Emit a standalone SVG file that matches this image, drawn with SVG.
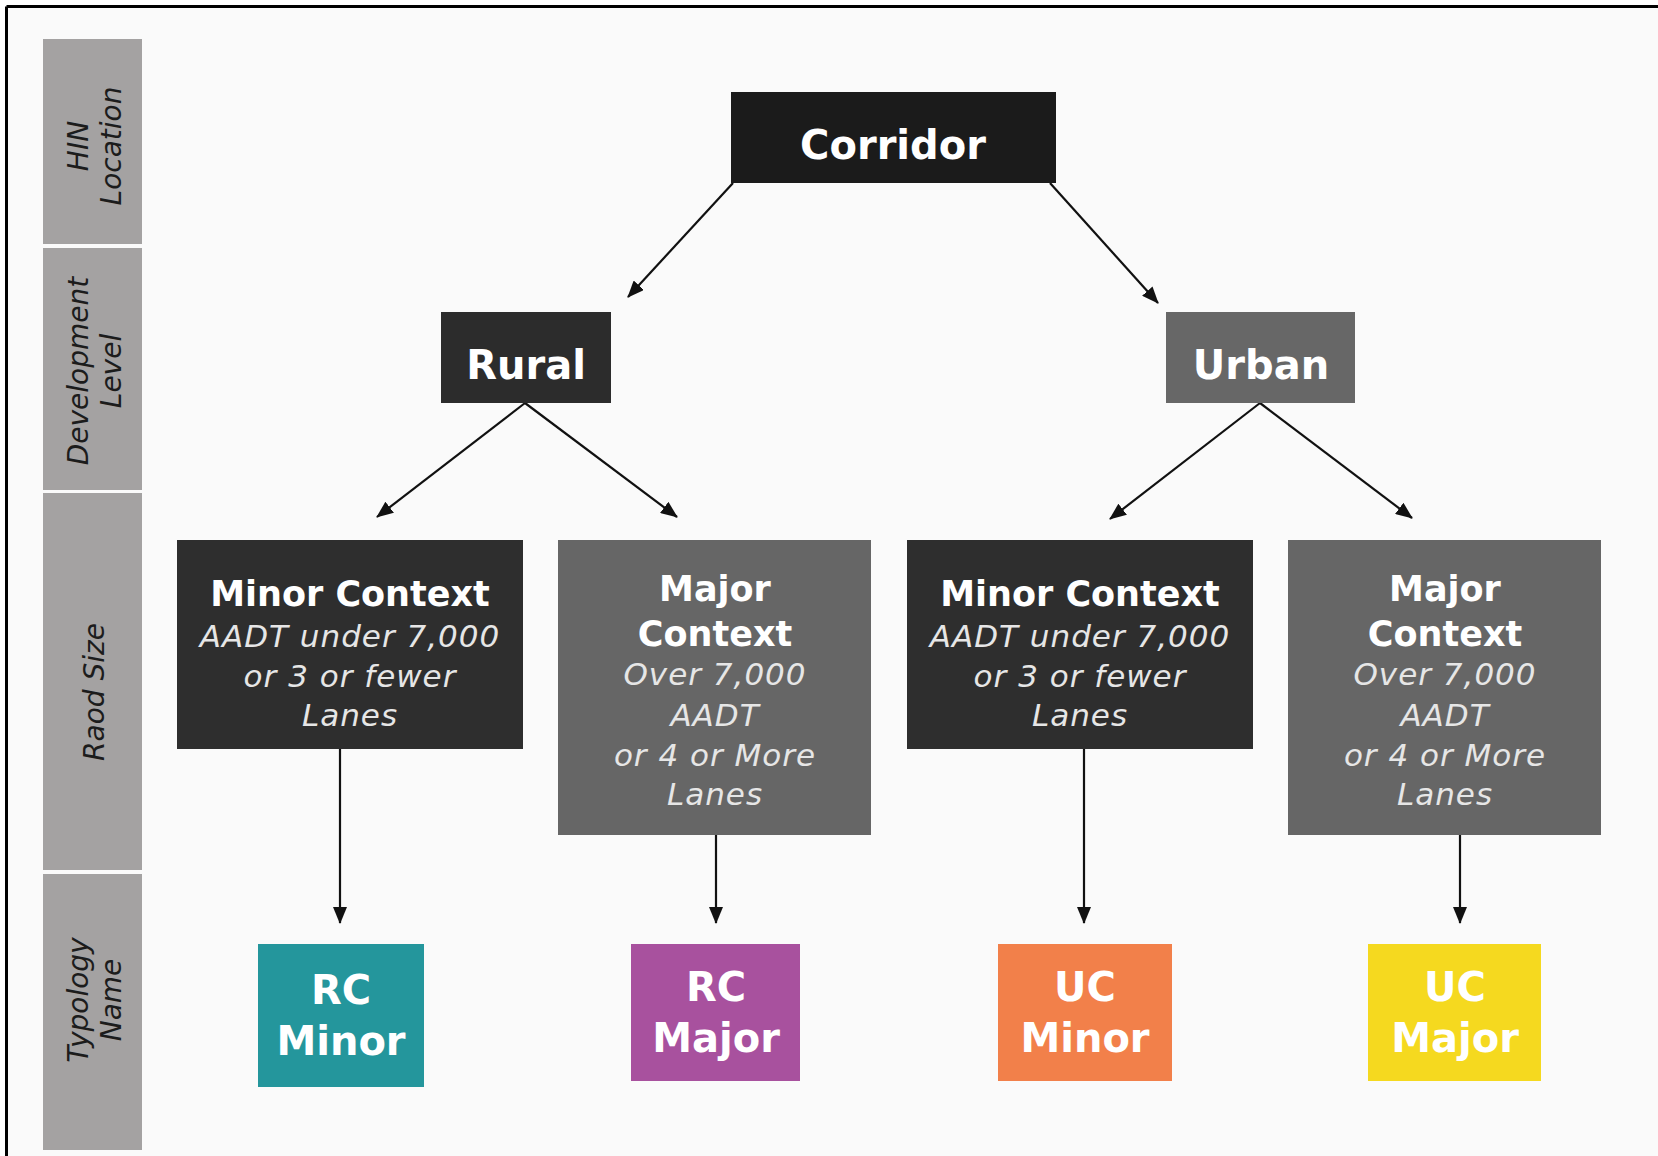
<svg xmlns="http://www.w3.org/2000/svg" width="1658" height="1156" viewBox="0 0 1658 1156">
  <defs>
    <marker id="arrow" markerUnits="userSpaceOnUse" markerWidth="17" markerHeight="14" viewBox="0 0 17 14" refX="16" refY="7" orient="auto">
      <path d="M0,0 L17,7 L0,14 z" fill="#111"/>
    </marker>
    <style>
      .side { fill: #a4a2a2; }
      .sidetxt { font-family: "DejaVu Sans", "Liberation Sans", sans-serif; font-style: oblique; font-size: 28px; fill: #1c1c1c; text-anchor: middle; }
      .head { font-family: "DejaVu Sans", "Liberation Sans", sans-serif; font-weight: bold; font-size: 40px; fill: #ffffff; text-anchor: middle; }
      .sub { font-family: "DejaVu Sans", "Liberation Sans", sans-serif; font-weight: bold; font-size: 35px; fill: #ffffff; text-anchor: middle; }
      .it { font-family: "DejaVu Sans", "Liberation Sans", sans-serif; font-style: oblique; font-size: 31px; letter-spacing: 1px; fill: #e6e6e6; text-anchor: middle; }
      .conn { stroke: #111; stroke-width: 2.2; fill: none; marker-end: url(#arrow); }
    </style>
  </defs>

  <rect x="0" y="0" width="1658" height="1156" fill="#ffffff"/>
  <rect x="7" y="7" width="1651" height="1149" fill="#fafafa"/>
  <g id="frame" stroke="#000" stroke-width="3" fill="none">
    <line x1="6.5" y1="6.5" x2="1658" y2="6.5"/>
    <line x1="6.5" y1="6.5" x2="6.5" y2="1156"/>
  </g>

  <g id="sidebar">
    <g id="row-hin">
      <rect class="side" x="43" y="39" width="99" height="205"/>
      <text class="sidetxt" transform="translate(0,146) rotate(-90)"><tspan x="0" y="88">HIN</tspan><tspan x="0" y="121">Location</tspan></text>
    </g>
    <g id="row-dev">
      <rect class="side" x="43" y="248" width="99" height="242"/>
      <text class="sidetxt" transform="translate(0,371) rotate(-90)"><tspan x="0" y="88">Development</tspan><tspan x="0" y="121">Level</tspan></text>
    </g>
    <g id="row-road">
      <rect class="side" x="43" y="493" width="99" height="377"/>
      <text class="sidetxt" transform="translate(0,692) rotate(-90)" x="0" y="104">Raod Size</text>
    </g>
    <g id="row-typ">
      <rect class="side" x="43" y="874" width="99" height="276"/>
      <text class="sidetxt" transform="translate(0,1000) rotate(-90)"><tspan x="0" y="88">Typology</tspan><tspan x="0" y="121">Name</tspan></text>
    </g>
  </g>

  <g id="connectors">
    <line class="conn" x1="733" y1="183" x2="628" y2="297"/>
    <line class="conn" x1="1050" y1="183" x2="1158" y2="303"/>
    <line class="conn" x1="525" y1="403" x2="377" y2="517"/>
    <line class="conn" x1="525" y1="403" x2="677" y2="517"/>
    <line class="conn" x1="1260" y1="403" x2="1110" y2="519"/>
    <line class="conn" x1="1260" y1="403" x2="1412" y2="518"/>
    <line class="conn" x1="340" y1="749" x2="340" y2="923"/>
    <line class="conn" x1="716" y1="834" x2="716" y2="923"/>
    <line class="conn" x1="1084" y1="749" x2="1084" y2="923"/>
    <line class="conn" x1="1460" y1="834" x2="1460" y2="923"/>
  </g>

  <g id="corridor">
    <rect x="731" y="92" width="325" height="91" fill="#1b1b1b"/>
    <text class="head" x="893" y="159">Corridor</text>
  </g>
  <g id="rural">
    <rect x="441" y="312" width="170" height="91" fill="#2c2c2c"/>
    <text class="head" x="526" y="379">Rural</text>
  </g>
  <g id="urban">
    <rect x="1166" y="312" width="189" height="91" fill="#676767"/>
    <text class="head" x="1261" y="379">Urban</text>
  </g>

  <g id="rural-minor">
    <rect x="177" y="540" width="346" height="209" fill="#2e2e2e"/>
    <text class="sub" x="350" y="606">Minor Context</text>
    <text class="it" x="350" y="647">AADT under 7,000</text>
    <text class="it" x="350" y="687">or 3 or fewer</text>
    <text class="it" x="350" y="726">Lanes</text>
  </g>
  <g id="rural-major">
    <rect x="558" y="540" width="313" height="295" fill="#666666"/>
    <text class="sub" x="715" y="601">Major</text>
    <text class="sub" x="715" y="646">Context</text>
    <text class="it" x="715" y="685">Over 7,000</text>
    <text class="it" x="715" y="726">AADT</text>
    <text class="it" x="715" y="766">or 4 or More</text>
    <text class="it" x="715" y="805">Lanes</text>
  </g>
  <g id="urban-minor">
    <rect x="907" y="540" width="346" height="209" fill="#2e2e2e"/>
    <text class="sub" x="1080" y="606">Minor Context</text>
    <text class="it" x="1080" y="647">AADT under 7,000</text>
    <text class="it" x="1080" y="687">or 3 or fewer</text>
    <text class="it" x="1080" y="726">Lanes</text>
  </g>
  <g id="urban-major">
    <rect x="1288" y="540" width="313" height="295" fill="#666666"/>
    <text class="sub" x="1445" y="601">Major</text>
    <text class="sub" x="1445" y="646">Context</text>
    <text class="it" x="1445" y="685">Over 7,000</text>
    <text class="it" x="1445" y="726">AADT</text>
    <text class="it" x="1445" y="766">or 4 or More</text>
    <text class="it" x="1445" y="805">Lanes</text>
  </g>

  <g id="rc-minor">
    <rect x="258" y="944" width="166" height="143" fill="#24969c"/>
    <text class="head" x="341" y="1004">RC</text>
    <text class="head" x="341" y="1055">Minor</text>
  </g>
  <g id="rc-major">
    <rect x="631" y="944" width="169" height="137" fill="#a8519e"/>
    <text class="head" x="716" y="1001">RC</text>
    <text class="head" x="716" y="1052">Major</text>
  </g>
  <g id="uc-minor">
    <rect x="998" y="944" width="174" height="137" fill="#f2804a"/>
    <text class="head" x="1085" y="1001">UC</text>
    <text class="head" x="1085" y="1052">Minor</text>
  </g>
  <g id="uc-major">
    <rect x="1368" y="944" width="173" height="137" fill="#f5d91f"/>
    <text class="head" x="1455" y="1001">UC</text>
    <text class="head" x="1455" y="1052">Major</text>
  </g>
</svg>
